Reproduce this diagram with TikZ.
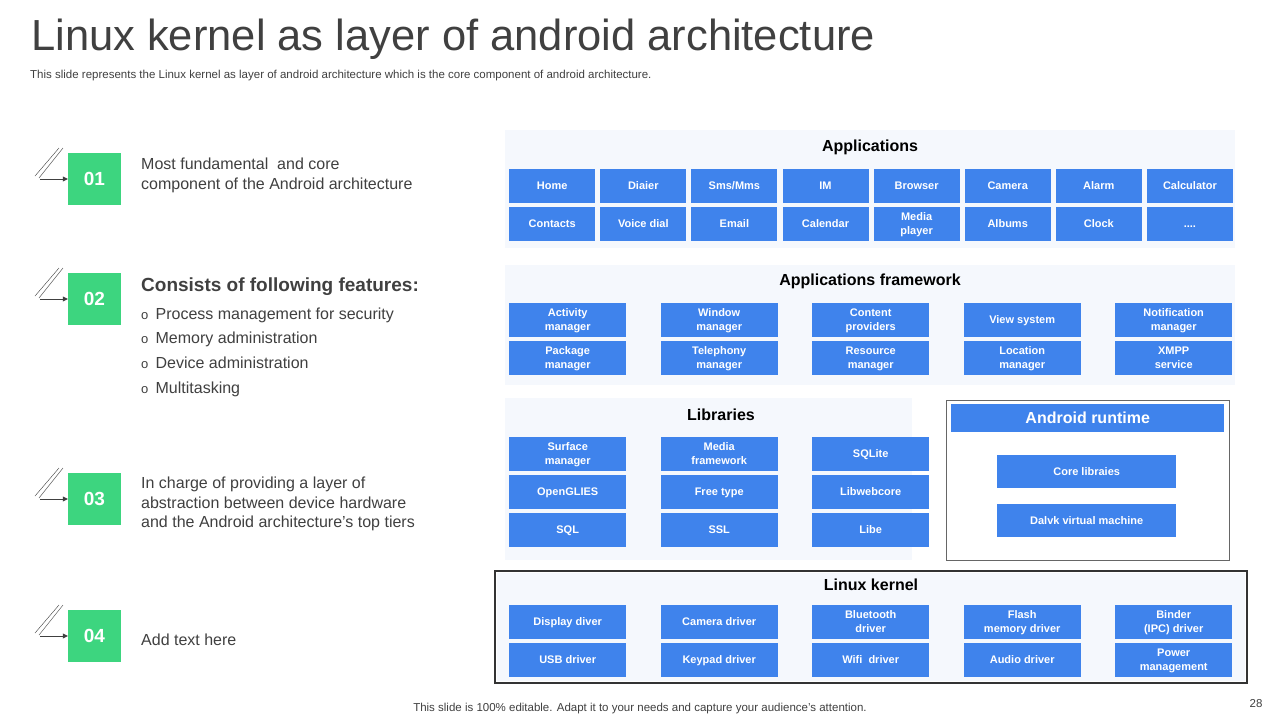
\documentclass[tikz,border=0pt]{standalone}
\usepackage{fontspec}
\setmainfont{Liberation Sans}
\usetikzlibrary{arrows.meta}
\definecolor{bblue}{HTML}{3F83EC}
\definecolor{gg}{HTML}{3DD57F}
\definecolor{panel}{HTML}{F5F8FD}
\definecolor{txt}{HTML}{404040}
\tikzset{
 bx/.style={fill=bblue,text=white,font=\bfseries\fontsize{11}{14}\selectfont,align=center,inner sep=0pt,anchor=north west},
 pnl/.style={fill=panel,draw=none},
 ptitle/.style={font=\bfseries\fontsize{16}{18}\selectfont,text=black},
 num/.style={fill=gg,text=white,font=\bfseries\fontsize{19}{21}\selectfont,minimum width=53pt,minimum height=52pt,inner sep=0pt},
 desc/.style={font=\fontsize{16}{19.3}\selectfont,text=txt,align=left,anchor=north west,inner sep=0pt},
}
\newcommand{\bxat}[5]{\node[bx,minimum width=#3pt,minimum height=34pt] (#5) at (#1,#2) {\begin{tabular}{@{}c@{}}#4\end{tabular}};}
\newcommand{\fourdots}{.\kern0pt.\kern0pt.\kern0pt.}
\begin{document}
\begin{tikzpicture}[x=1pt,y=-1pt]
\useasboundingbox (0,0) rectangle (1280,720);
\fill[white] (0,0) rectangle (1280,720);
\node[anchor=west,inner sep=0pt,font=\fontsize{43.5}{50}\selectfont,text=txt] (title) at (31,39) {Linux kernel as layer of android architecture};
\node[anchor=west,inner sep=0pt,font=\fontsize{11.5}{13}\selectfont,text=txt] (sub) at (30,76) {This slide represents the Linux kernel as layer of android architecture which is the core component of android architecture.};
\node[font=\fontsize{11.5}{13}\selectfont,text=txt] (foot) at (640,709) {This slide is 100\% editable. Adapt it to your needs and capture your audience's attention.};
\node[font=\fontsize{11.5}{13}\selectfont,text=txt] (pg) at (1256,704) {28};
% left items
\foreach \n/\y in {01/179,02/299,03/499,04/636}{
 \node[num] (n\n) at (94.5,\y) {\n};
 \draw[txt,thin] (35,\y-3) -- (59,\y-31);
 \draw[txt,thin] (39,\y-1) -- (63,\y-31);
 \coordinate (s\n) at (40,\y);
 \draw[txt,-{Triangle[length=5pt,width=5pt]}] (s\n) -- (n\n.west);
}
\node[desc] (d1) at (141,158) {Most fundamental\ \ and core\\component of the Android architecture};
\node[desc,font=\bfseries\fontsize{19}{21}\selectfont] (d2) at (141,278) {Consists of following features:};
\foreach \t [count=\i] in {Process management for security,Memory administration,Device administration,Multitasking}{
 \node[anchor=base west,inner sep=0pt,font=\fontsize{16}{19}\selectfont,text=txt] (f\i) at (141,319+24.7*\i-24.7) {\fontsize{13}{15}\selectfont o\ \ \fontsize{16}{19}\selectfont\t};
}
\node[desc] (d3) at (141,477) {In charge of providing a layer of\\abstraction between device hardware\\and the Android architecture's top tiers};
\node[anchor=west,inner sep=0pt,font=\fontsize{16}{19}\selectfont,text=txt] (d4) at (141,640) {Add text here};
% Applications
\fill[pnl] (505,130) rectangle (1235,248);
\node[ptitle] (tapp) at (870,147) {Applications};
\foreach \t [count=\i] in {Home,Diaier,Sms/Mms,IM,Browser,Camera,Alarm,Calculator}{\bxat{509+91.1*\i-91.1}{169}{86}{\t}{a\i}}
\foreach \t [count=\i] in {Contacts,Voice dial,Email,Calendar,Media\\player,Albums,Clock,\fourdots}{\bxat{509+91.1*\i-91.1}{207}{86}{\t}{b\i}}
% Framework
\fill[pnl] (505,265) rectangle (1235,385);
\node[ptitle] (tfw) at (870,281) {Applications framework};
\foreach \t [count=\i] in {Activity\\manager,Window\\manager,Content\\providers,View system,Notification\\manager}{\bxat{509+151.5*\i-151.5}{303}{117}{\t}{c\i}}
\foreach \t [count=\i] in {Package\\manager,Telephony\\manager,Resource\\manager,Location\\manager,XMPP\\service}{\bxat{509+151.5*\i-151.5}{341}{117}{\t}{e\i}}
% Libraries
\fill[pnl] (505,398) rectangle (912,560);
\node[ptitle] (tlib) at (721,415) {Libraries};
\foreach \t [count=\i] in {Surface\\manager,Media\\framework,SQLite}{\bxat{509+151.5*\i-151.5}{437}{117}{\t}{l\i}}
\foreach \t [count=\i] in {OpenGLIES,Free type,Libwebcore}{\bxat{509+151.5*\i-151.5}{475}{117}{\t}{m\i}}
\foreach \t [count=\i] in {SQL,SSL,Libe}{\bxat{509+151.5*\i-151.5}{513}{117}{\t}{o\i}}
% Android runtime
\draw[gray!80!black,line width=0.8pt] (946,400) rectangle (1229,560);
\node[bx,minimum width=273pt,minimum height=28pt,font=\bfseries\fontsize{16}{18}\selectfont] (art) at (951,404) {Android runtime};
\node[bx,minimum width=179pt,minimum height=33pt] (core) at (997,455) {Core libraies};
\node[bx,minimum width=179pt,minimum height=33pt] (dal) at (997,504) {Dalvk virtual machine};
% Linux kernel
\fill[pnl] (497,573) rectangle (1245,681);
\draw[black!80,line width=2.2pt] (495,571) rectangle (1247,683);
\node[ptitle] (tlk) at (871,585) {Linux kernel};
\foreach \t [count=\i] in {Display diver,Camera driver,Bluetooth\\driver,Flash\\memory driver,Binder\\(IPC) driver}{\bxat{509+151.5*\i-151.5}{605}{117}{\t}{k\i}}
\foreach \t [count=\i] in {USB driver,Keypad driver,Wifi\ \ driver,Audio driver,Power\\management}{\bxat{509+151.5*\i-151.5}{643}{117}{\t}{u\i}}
\end{tikzpicture}
\end{document}
